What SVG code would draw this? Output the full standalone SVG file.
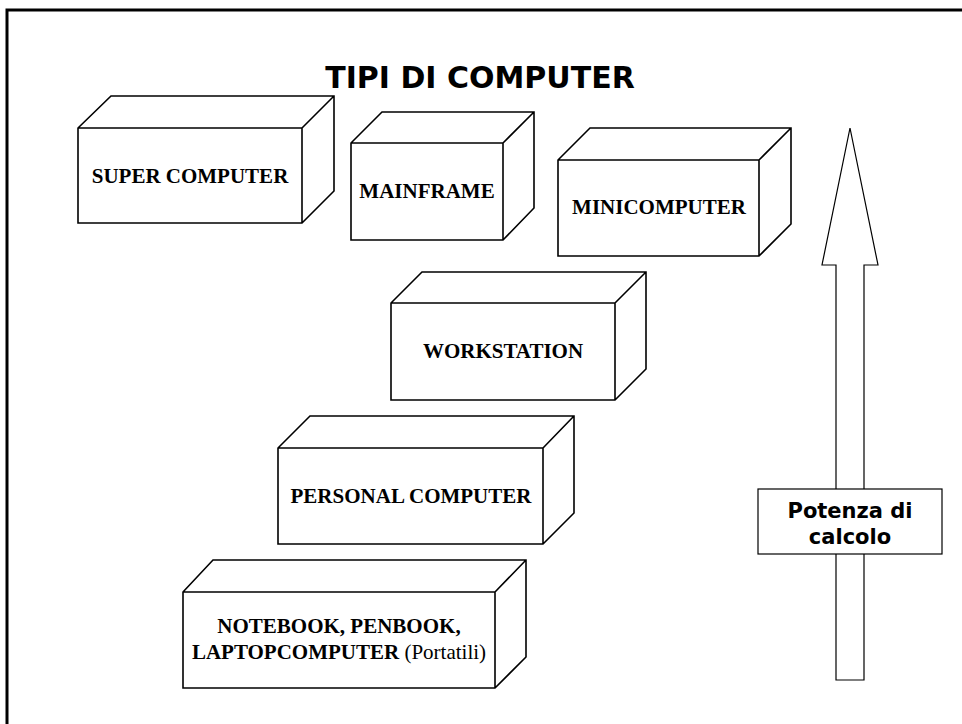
<svg xmlns="http://www.w3.org/2000/svg" width="962" height="724" viewBox="0 0 962 724">
<style>
.box{fill:#fff;stroke:#000;stroke-width:1.6;stroke-linejoin:miter}
.lbl{font-family:"Liberation Serif","Times New Roman",serif;font-weight:bold;font-size:21px;fill:#000;text-anchor:middle}
.reg{font-weight:normal}
.title{font-family:"DejaVu Sans",Verdana,sans-serif;font-weight:bold;font-size:30px;fill:#000;text-anchor:middle}
.pot{font-family:"DejaVu Sans",Verdana,sans-serif;font-weight:bold;font-size:21px;fill:#000;text-anchor:middle}
.arrow{fill:#fff;stroke:#000;stroke-width:1.2}
</style>
<rect x="0" y="0" width="962" height="724" fill="#fff"/>
<path d="M7,730 V10 H970" fill="none" stroke="#000" stroke-width="3"/>
<text class="title" x="480" y="88">TIPI DI COMPUTER</text>

<g id="super-computer">
<path class="box" d="M78,128 L111,96 H334 V191 L302,223 H78 Z M78,128 H302 V223 M302,128 L334,96"/>
<text class="lbl" x="190" y="183">SUPER COMPUTER</text>
</g>
<g id="mainframe">
<path class="box" d="M351,143 L382,112 H534 V208 L503,240 H351 Z M351,143 H503 V240 M503,143 L534,112"/>
<text class="lbl" x="427" y="198">MAINFRAME</text>
</g>
<g id="minicomputer">
<path class="box" d="M558,160 L590,128 H791 V224 L759,256 H558 Z M558,160 H759 V256 M759,160 L791,128"/>
<text class="lbl" x="659" y="214">MINICOMPUTER</text>
</g>
<g id="workstation">
<path class="box" d="M391,303 L422,272 H646 V369 L615,400 H391 Z M391,303 H615 V400 M615,303 L646,272"/>
<text class="lbl" x="503" y="358">WORKSTATION</text>
</g>
<g id="personal-computer">
<path class="box" d="M278,448 L310,416 H574 V513 L543,544 H278 Z M278,448 H543 V544 M543,448 L574,416"/>
<text class="lbl" x="411" y="503">PERSONAL COMPUTER</text>
</g>
<g id="notebook">
<path class="box" d="M183,592 L213,560 H526 V657 L495,688 H183 Z M183,592 H495 V688 M495,592 L526,560"/>
<text class="lbl" x="339" y="633">NOTEBOOK, PENBOOK,</text>
<text class="lbl" x="339" y="659">LAPTOPCOMPUTER <tspan class="reg">(Portatili)</tspan></text>
</g>

<g id="connectors">
<polygon class="arrow" points="850,128 878,265 864,265 864,680 836,680 836,265 822,265"/>
</g>
<g id="potenza">
<rect x="758" y="489" width="184" height="65" fill="#fff" stroke="#000" stroke-width="1.2"/>
<text class="pot" x="850" y="518">Potenza di</text>
<text class="pot" x="850" y="544">calcolo</text>
</g>
</svg>
